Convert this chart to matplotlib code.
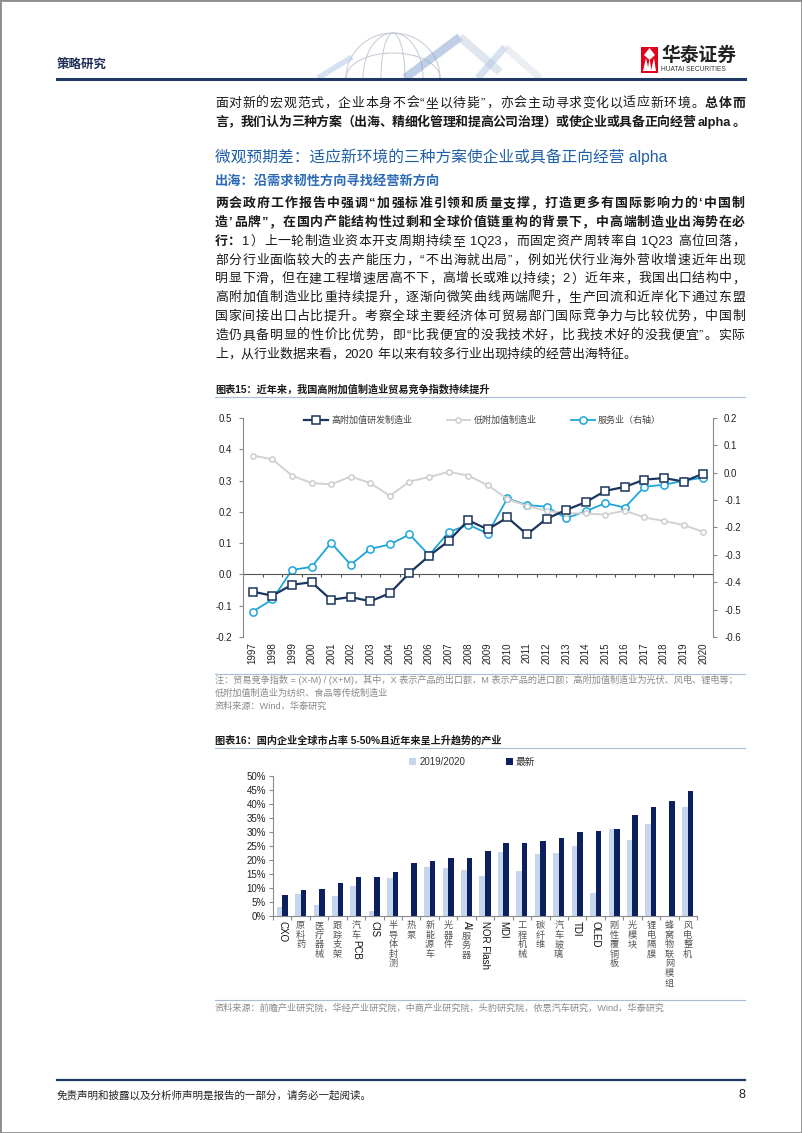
import re

import numpy as np
import matplotlib
matplotlib.use("Agg")
import matplotlib.pyplot as plt
from matplotlib.patches import Rectangle, Polygon, Arc
from matplotlib.lines import Line2D
from matplotlib.ticker import FuncFormatter

W, H, DPI = 802, 1133, 100
FONT = ["Liberation Sans", "Noto Sans CJK SC"]
plt.rcParams["font.family"] = FONT
plt.rcParams["axes.unicode_minus"] = False

# ── 图表15 数据 ─────────────────────────────────────────────
years = [str(y) for y in range(1997, 2021)]
high_value = [-0.055, -0.068, -0.033, -0.025, -0.081, -0.072, -0.086, -0.060,
              0.005, 0.059, 0.107, 0.173, 0.144, 0.182, 0.128, 0.178,
              0.206, 0.231, 0.267, 0.280, 0.303, 0.308, 0.297, 0.322]
low_value = [0.380, 0.368, 0.316, 0.292, 0.288, 0.313, 0.292, 0.251,
             0.297, 0.311, 0.328, 0.316, 0.285, 0.241, 0.219, 0.203,
             0.196, 0.195, 0.191, 0.204, 0.182, 0.171, 0.158, 0.136]
services = [-0.507, -0.463, -0.355, -0.344, -0.256, -0.336, -0.278, -0.262,
            -0.225, -0.301, -0.217, -0.190, -0.222, -0.094, -0.118, -0.124,
            -0.166, -0.141, -0.111, -0.127, -0.051, -0.044, -0.029, -0.018]
left_ticks = [-0.2, -0.1, 0.0, 0.1, 0.2, 0.3, 0.4, 0.5]
right_ticks = [-0.6, -0.5, -0.4, -0.3, -0.2, -0.1, 0.0, 0.1, 0.2]

# ── 图表16 数据 ─────────────────────────────────────────────
industries = ["CXO", "原料药", "医疗器械", "跟踪支架", "汽车PCB", "CIS", "半导体封测",
              "热泵", "新能源车", "光器件", "AI服务器", "NOR Flash", "MDI", "工程机械",
              "碳纤维", "汽车玻璃", "TDI", "OLED", "刚性覆铜板", "光模块", "锂电隔膜",
              "蜂窝物联网模组", "风电整机"]
share_2019 = [3.3, 7.9, 3.8, 7.1, 10.7, 1.9, 13.6, 0.0, 17.4, 17.0, 16.3, 14.2,
              22.7, 16.0, 22.1, 22.4, 25.1, 8.3, 31.0, 27.0, 32.7, 0.0, 38.9]
share_latest = [7.4, 9.2, 9.6, 11.9, 14.0, 13.9, 15.7, 19.0, 19.6, 20.8, 20.8, 23.3,
                26.0, 26.2, 26.9, 28.0, 30.0, 30.5, 31.0, 36.0, 38.9, 41.1, 44.8]

NAVY = "#1B365D"
CYAN = "#1DA5D9"
LGRAY = "#D2D2D2"
BAR_LIGHT = "#C6D6EC"
BAR_DARK = "#0C1F5E"
RULE = "#A9BCD6"

fig = plt.figure(figsize=(W / DPI, H / DPI), dpi=DPI)
rend = fig.canvas.get_renderer()


def fx(x):
    return x / W


def fy(y):
    return 1 - y / H


def hline(y, x0=215, x1=745, color=RULE, lw=0.8):
    fig.add_artist(Line2D([fx(x0), fx(x1)], [fy(y), fy(y)], color=color, lw=lw,
                          transform=fig.transFigure))


def seg(p0, p1, color, lw, alpha):
    fig.add_artist(Line2D([fx(p0[0]), fx(p1[0])], [fy(p0[1]), fy(p1[1])], color=color,
                          lw=lw, alpha=alpha, solid_capstyle="butt", transform=fig.transFigure))


def is_wide(tok):
    return len(tok) == 1 and ord(tok) >= 0x2E80


def put_line(y, segs, x0=215, x1=745, size=9.3, justify=True, color="#1a1a1a"):
    """一行正文：逐字放置，两端对齐。y 为行中心（像素，自上而下）。"""
    px_em = size / 72 * DPI
    items = []
    for txt, bold in segs:
        for tok in re.findall(r"[A-Za-z0-9.]+|.", txt):
            t = fig.text(0, fy(y + 0.36 * px_em), tok, fontsize=size, color=color,
                         fontweight="bold" if bold else "normal", va="baseline", ha="left")
            if tok == " ":
                w = 0.28 * px_em
            elif is_wide(tok):
                w = px_em
            else:
                w = t.get_window_extent(rend).width + 0.08 * px_em
            items.append((t, w))
    total = sum(w for _, w in items)
    gap = (x1 - x0 - total) / (len(items) - 1) if justify and len(items) > 1 else 0
    x = x0
    for t, w in items:
        t.set_x(fx(x))
        x += w + gap


# ── 页眉 ─────────────────────────────────────────────────────
fig.text(fx(57), fy(65), "策略研究", fontsize=9, fontweight="bold", color="#1F2F55", va="center")
# 水印装饰（淡色半球+折带）
for wd, ht in ((94, 90), (60, 90), (24, 90), (94, 50)):
    fig.add_artist(Arc((fx(393), fy(78)), wd / W, ht / H, theta1=0, theta2=180,
                       transform=fig.transFigure, color="#C4CAD4", lw=0.8, alpha=0.9))
seg((318, 78), (352, 57), "#B5C9E6", 4, 0.55)
seg((405, 78), (460, 37), "#7EA0CF", 6, 0.5)
seg((460, 37), (500, 72), "#C3CFE2", 6, 0.5)
seg((478, 78), (505, 47), "#A9BEDD", 5, 0.45)
seg((505, 47), (540, 78), "#D8DEE9", 5, 0.5)
hline(79, 57, 745, color="#1F3864", lw=2.2)
# 华泰证券 logo
fig.add_artist(Rectangle((fx(641), fy(73)), 17 / W, 26 / H, transform=fig.transFigure,
                         color="#E3001B", ec="none"))
for xs in ((643, 646, 649), (647.5, 649.5, 651.5), (651, 654, 656)):
    fig.add_artist(Polygon([(fx(xs[0]), fy(71)), (fx(xs[1]), fy(58)), (fx(xs[2]), fy(71))],
                           closed=True, transform=fig.transFigure, color="white", ec="none"))
fig.add_artist(Polygon([(fx(649.5), fy(48)), (fx(655), fy(55)), (fx(649.5), fy(60)), (fx(644), fy(55))],
                       closed=True, transform=fig.transFigure, color="white", ec="none"))
fig.text(fx(661), fy(56), "华泰证券", fontsize=13.5, fontweight="bold", color="#222", va="center")
fig.text(fx(661), fy(69.5), "HUATAI SECURITIES", fontsize=4.8, color="#333", va="center")

# ── 正文 ─────────────────────────────────────────────────────
put_line(102, [("面对新的宏观范式，企业本身不会“坐以待毙”，亦会主动寻求变化以适应新环境。", False),
               ("总体而", True)])
put_line(121, [("言，我们认为三种方案（出海、精细化管理和提高公司治理）或使企业或具备正向经营 alpha。", True)])

fig.text(fx(215), fy(157), "微观预期差：适应新环境的三种方案使企业或具备正向经营 alpha",
         fontsize=11.3, color="#1F5FA6", va="center")
fig.text(fx(215), fy(181), "出海：沿需求韧性方向寻找经营新方向",
         fontsize=9.5, fontweight="bold", color="#2A6AB6", va="center")

body = [
    [("两会政府工作报告中强调“加强标准引领和质量支撑，打造更多有国际影响力的‘中国制", True)],
    [("造’品牌”，在国内产能结构性过剩和全球价值链重构的背景下，中高端制造业出海势在必", True)],
    [("行：", True), ("1）上一轮制造业资本开支周期持续至 1Q23，而固定资产周转率自 1Q23 高位回落，", False)],
    [("部分行业面临较大的去产能压力，“不出海就出局”，例如光伏行业海外营收增速近年出现", False)],
    [("明显下滑，但在建工程增速居高不下，高增长或难以持续；2）近年来，我国出口结构中，", False)],
    [("高附加值制造业比重持续提升，逐渐向微笑曲线两端爬升，生产回流和近岸化下通过东盟", False)],
    [("国家间接出口占比提升。考察全球主要经济体可贸易部门国际竞争力与比较优势，中国制", False)],
    [("造仍具备明显的性价比优势，即“比我便宜的没我技术好，比我技术好的没我便宜”。实际", False)],
    [("上，从行业数据来看，2020 年以来有较多行业出现持续的经营出海特征。", False)],
]
for i, segs in enumerate(body):
    put_line(202.5 + 18.8 * i, segs, justify=(i < len(body) - 1))

# ── 图表15 ───────────────────────────────────────────────────
fig.text(fx(215), fy(389), "图表15：近年来，我国高附加值制造业贸易竞争指数持续提升",
         fontsize=7.3, fontweight="bold", color="#1a1a1a", va="center")
hline(397)

ax1 = fig.add_axes([fx(243), fy(637), 470 / W, 219 / H])
ax1r = ax1.twinx()
ax1.set_zorder(ax1r.get_zorder() + 1)
ax1.patch.set_visible(False)

x = np.arange(len(years))
l_low, = ax1.plot(x, low_value, color=LGRAY, lw=1.4, marker="o", ms=3.8, mfc="white",
                  mec="#C9C9C9", mew=1.0, zorder=2, label="低附加值制造业")
l_high, = ax1.plot(x, high_value, color=NAVY, lw=1.6, marker="s", ms=5.2, mfc="white",
                   mec=NAVY, mew=1.1, zorder=4, label="高附加值研发制造业")
l_srv, = ax1r.plot(x, services, color=CYAN, lw=1.3, marker="o", ms=5.2, mfc="white",
                   mec=CYAN, mew=1.1, label="服务业（右轴）")

ax1.axhline(0, color="#555555", lw=0.8, zorder=1)
ax1.vlines(np.arange(len(years) + 1) - 0.5, -0.008, 0, color="#555555", lw=0.8)

ax1.set_xlim(-0.5, len(years) - 0.5)
ax1.set_ylim(-0.2, 0.5)
ax1r.set_ylim(-0.6, 0.2)
ax1.set_yticks(left_ticks)
ax1r.set_yticks(right_ticks)
fmt1 = FuncFormatter(lambda v, p: f"{v:.1f}".replace("-0.0", "0.0"))
ax1.yaxis.set_major_formatter(fmt1)
ax1r.yaxis.set_major_formatter(fmt1)
ax1.set_xticks(x)
ax1.set_xticklabels(years, rotation=90, fontsize=7, color="#222")
ax1.tick_params(axis="x", length=0, pad=4)
for a in (ax1, ax1r):
    a.tick_params(axis="y", labelsize=7, labelcolor="#222", length=3, width=0.8,
                  color="#8a8a8a", direction="out", pad=5)
    for s in ("top", "bottom"):
        a.spines[s].set_visible(False)
ax1.spines["left"].set_color("#8a8a8a")
ax1.spines["right"].set_visible(False)
ax1r.spines["right"].set_color("#8a8a8a")
ax1r.spines["left"].set_visible(False)
ax1r.tick_params(axis="x", bottom=False, labelbottom=False)

ax1.legend(handles=[l_high, l_low, l_srv], loc="center", bbox_to_anchor=(0.51, 0.99),
           ncol=3, frameon=False, fontsize=6.5, handlelength=2.6, handletextpad=0.4,
           columnspacing=3.8, labelcolor="#444")

hline(674)
note_kw = dict(fontsize=6.6, color="#8a8a8a", va="center")
fig.text(fx(215), fy(680), "注：贸易竞争指数 = (X-M) / (X+M)，其中，X 表示产品的出口额，M 表示产品的进口额；"
         "高附加值制造业为光伏、风电、锂电等；", **note_kw)
fig.text(fx(215), fy(693), "低附加值制造业为纺织、食品等传统制造业", **note_kw)
fig.text(fx(215), fy(706), "资料来源：Wind，华泰研究", **note_kw)

# ── 图表16 ───────────────────────────────────────────────────
fig.text(fx(215), fy(741), "图表16：国内企业全球市占率 5-50%且近年来呈上升趋势的产业",
         fontsize=7.3, fontweight="bold", color="#1a1a1a", va="center")
hline(748)

ax2 = fig.add_axes([fx(273), fy(916), 424 / W, 140 / H])
xb = np.arange(len(industries))
ax2.bar(xb - 0.15, share_2019, 0.3, color=BAR_LIGHT, label="2019/2020")
ax2.bar(xb + 0.15, share_latest, 0.3, color=BAR_DARK, label="最新")
ax2.set_xlim(-0.5, len(industries) - 0.5)
ax2.set_ylim(0, 50)
ax2.set_yticks(range(0, 51, 5))
ax2.yaxis.set_major_formatter(FuncFormatter(lambda v, p: f"{v:.0f}%"))
ax2.set_xticks(np.arange(len(industries) + 1) - 0.5)
ax2.set_xticklabels([])
ax2.tick_params(axis="x", length=3, width=0.8, color="#8a8a8a")
ax2.tick_params(axis="y", labelsize=7, labelcolor="#222", length=3, width=0.8,
                color="#8a8a8a", pad=2)
for s in ("top", "right"):
    ax2.spines[s].set_visible(False)
for s in ("left", "bottom"):
    ax2.spines[s].set_color("#8a8a8a")
ax2.legend(loc="center", bbox_to_anchor=(0.47, 1.1), ncol=2, frameon=False, fontsize=7,
           handlelength=0.7, handleheight=0.7, handletextpad=0.3, columnspacing=4.2,
           labelcolor="#333")

# 竖排类目标签：汉字逐字直立，西文整体旋转
for i, name in enumerate(industries):
    xpix = ax2.transData.transform((i, 0))[0]
    ycur = 921.0
    for tok in re.findall(r"[A-Za-z0-9 ]+|.", name):
        if is_wide(tok):
            fig.text(fx(xpix), fy(ycur), tok, fontsize=6.6, color="#555", ha="center", va="top")
            ycur += 9.6
        else:
            t = fig.text(fx(xpix), fy(ycur), tok, fontsize=7, color="#111", ha="center",
                         va="top", rotation=270)
            ycur += t.get_window_extent(rend).height + 1.5

hline(1000)
fig.text(fx(215), fy(1008), "资料来源：前瞻产业研究院，华经产业研究院，中商产业研究院，头豹研究院，"
         "依思汽车研究，Wind，华泰研究", **note_kw)

# ── 页脚 ─────────────────────────────────────────────────────
hline(1080, 57, 745, color="#1F3864", lw=1.6)
fig.text(fx(57), fy(1095), "免责声明和披露以及分析师声明是报告的一部分，请务必一起阅读。",
         fontsize=7.6, style="italic", color="#222", va="center")
fig.text(fx(745), fy(1095), "8", fontsize=9, color="#222", va="center", ha="right")

fig.add_artist(Rectangle((0, 0), 1, 1, transform=fig.transFigure, fill=False,
                         ec="#8c8c8c", lw=2))

fig.savefig("out.png", dpi=DPI)
